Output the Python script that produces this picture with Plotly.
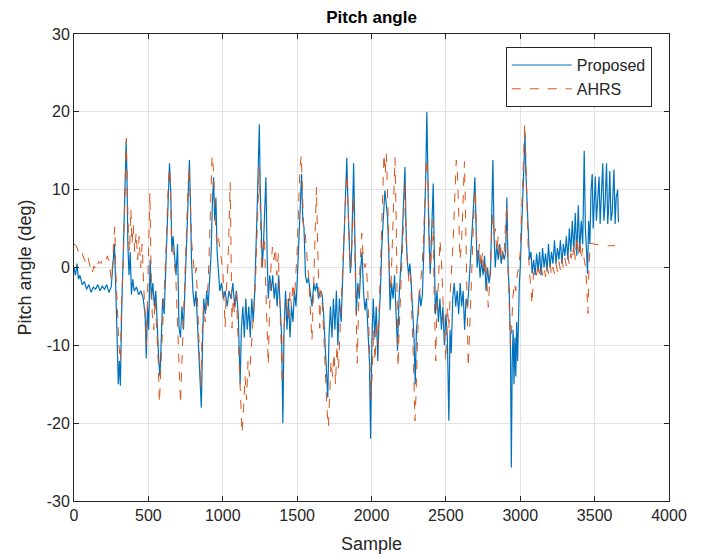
import plotly.graph_objects as go

# ---- Proposed (blue) : sample index / pitch angle (deg)
prop_s = [0,10,20,30,40,55,70,85,100,115,130,145,160,175,190,205,220,235,250,262,272,280,290,298,305,312,320,328,336,344,350,356,362,370,378,386,395,405,420,435,450,465,478,486,494,502,512,520,530,540,550,560,570,578,586,596,606,615,625,634,642,650,658,666,676,686,696,706,716,726,736,746,756,764,770,776,782,790,800,810,820,830,840,850,856,864,872,882,892,902,912,922,930,938,946,954,962,970,980,992,1004,1016,1030,1042,1055,1068,1080,1092,1104,1117,1125,1135,1145,1155,1165,1175,1185,1195,1205,1215,1225,1232,1240,1246,1252,1260,1266,1274,1282,1290,1298,1306,1316,1326,1336,1346,1356,1366,1376,1386,1396,1404,1412,1422,1432,1442,1452,1462,1472,1482,1492,1500,1510,1520,1530,1538,1546,1556,1566,1576,1588,1600,1612,1622,1632,1644,1656,1668,1678,1688,1698,1706,1714,1724,1734,1744,1754,1764,1774,1784,1796,1806,1816,1826,1834,1842,1850,1858,1866,1874,1880,1888,1898,1908,1918,1928,1936,1946,1956,1966,1976,1986,1994,2002,2012,2022,2032,2042,2052,2060,2070,2080,2090,2100,2108,2116,2125,2135,2145,2155,2165,2175,2185,2195,2205,2215,2225,2232,2240,2250,2258,2266,2276,2286,2294,2302,2312,2322,2332,2342,2350,2358,2365,2372,2378,2386,2395,2405,2415,2422,2430,2440,2450,2460,2470,2480,2490,2500,2510,2520,2528,2536,2546,2556,2566,2576,2586,2596,2606,2616,2626,2636,2646,2656,2666,2676,2686,2695,2702,2710,2720,2730,2740,2750,2760,2770,2780,2790,2800,2808,2816,2824,2832,2842,2852,2862,2872,2882,2892,2902,2910,2918,2926,2934,2940,2946,2952,2958,2964,2970,2976,2982,2988,2994,3000,3008,3016,3024,3032,3038,3046,3054,3062,3072,3080,3090,3100,3110,3120,3130,3140,3150,3160,3170,3180,3190,3200,3210,3220,3230,3240,3250,3260,3270,3280,3290,3300,3310,3320,3330,3340,3350,3360,3370,3380,3390,3400,3410,3420,3430,3438,3446,3452,3460,3468,3476,3484,3490,3498,3505,3512,3520,3530,3537,3545,3555,3562,3570,3580,3588,3595,3602,3610,3618,3630,3638,3645,3655,3660]
prop_v = [0,-1,0.5,-1.5,-1,-2.2,-1.8,-2.8,-2.2,-3.2,-2.5,-2.8,-2.2,-3,-2.4,-2.8,-2.2,-3.2,-2.5,0,3,-2,-8,-15,-12,-15.2,-6,-1,4,11,16.2,12,3,-1,2,-3.5,-1.5,-3,-2.5,-3.5,-3,-4,-6,-11.7,-5,-8,1,-4,-2,-5,-3,-8,-12,-14,-8,-4,-6,-1,3,8,13.4,10,2,4,1,-1,3,-7.7,-9,-5,-8,-3,1,7,11,13.8,9,1,-3.2,-5,-3,-7,-12,-15,-18,-10,-4,-6,-3,-5,-2,2,8,11.6,6,9,2,-1,-3,-2,-4,-3,-5,-3,-4,-2,-5,-3,-6,-15,-8,-5,-9,-4,-8,-5,-9,-4,-7,-3,2,8,14,18.4,10,2,0,3,7,11.6,2,-4,-1,-3,-1,-4,-2,-5,-1,-6,-9,-20,-8,-3,-8,-4,-9,-5,-7,-3,-5,-2,3,9,12,6,5.2,-1,-2,-1.3,-3,-5,-2,-3,-2,-4,-3,-3.5,-6,-10,-14,-16.7,-9,-5,-9,-4,-8,-3,-10,-4,-7,-2,3,9,14.1,8,3,-0.7,2,8,13.4,4,-6,-2,-4,0,2,-3,-5.5,-4,-8,-12,-22,-10,-4,-9,-5,-12,-6,-3,3,7,9.9,8,6.4,2,-5.5,-2,-4,-1,-6,-10.7,-4,-1,3,8,12.9,5,0.9,-1,0.5,-1.7,-5,-9,-15,-8,-6,-3,-5,-3.5,1,6,12,20,10,4,-0.8,4,10.8,2,-6,-3,-7,-4,-8,-5,-10,-6,-9,-19.7,-8,-11,-4,-2,-5,-3,-6,-2,-5,-3,-8,-4,-5,-2,1,4,8,11.6,5,0,2.2,-1.3,1,-1,1.5,-3,0,-2,-0.8,6,13.8,4,0,3,1,3,0.5,2,1,2,9,0,-3,-10,-25.7,-12,-8,-15,-9,-14,-7,-12,-5,-2,0,4,10,14,17.2,12,8,3,1,2,-0.8,1,-1,1.8,-0.5,2,-1,2.5,0,1.8,-0.5,3,0,2,0.5,3.5,0.5,2.5,1,3.5,0.5,3,1.5,4,1,5,2,6,2,7,1.5,8,2,6,3,15,5,2,-0.8,6,3,10,12,5,8,11.7,6,8,11.7,5.6,9,13.4,6,8,13.4,5.6,8,12.4,6,7,12.6,5.6,9,10,5.8]

# ---- AHRS (red, dashed)
ahrs_s = [0,15,30,45,60,75,90,105,120,135,150,165,180,195,210,225,240,250,258,266,274,282,292,302,312,320,330,338,346,352,358,366,374,382,390,398,408,418,428,438,448,458,468,478,486,494,502,510,518,526,536,546,556,566,574,582,592,602,612,622,630,640,648,656,666,676,686,696,706,716,726,736,746,756,766,774,782,792,802,812,822,832,842,852,862,872,882,892,902,912,920,928,936,944,952,962,972,982,992,1002,1010,1016,1024,1034,1042,1050,1056,1062,1070,1080,1090,1100,1110,1120,1130,1140,1150,1160,1170,1180,1190,1200,1210,1220,1230,1238,1246,1254,1262,1270,1280,1290,1300,1306,1314,1324,1334,1344,1354,1364,1374,1384,1392,1400,1410,1420,1432,1442,1452,1462,1472,1482,1492,1500,1510,1520,1528,1536,1544,1552,1560,1570,1580,1590,1600,1610,1620,1630,1638,1646,1652,1660,1670,1680,1690,1700,1710,1718,1728,1738,1748,1758,1768,1778,1788,1798,1808,1818,1828,1836,1844,1852,1862,1872,1880,1888,1898,1904,1912,1922,1935,1945,1955,1965,1975,1985,1996,2004,2014,2024,2034,2044,2054,2064,2074,2084,2092,2100,2110,2120,2130,2140,2150,2158,2166,2172,2178,2186,2196,2206,2216,2226,2234,2242,2252,2262,2272,2282,2292,2300,2310,2320,2330,2340,2350,2360,2370,2378,2386,2396,2406,2414,2422,2432,2440,2450,2460,2470,2480,2490,2500,2510,2520,2530,2540,2550,2560,2570,2578,2586,2595,2605,2615,2625,2633,2642,2650,2658,2668,2678,2688,2698,2706,2716,2726,2736,2746,2756,2766,2776,2785,2794,2804,2814,2822,2832,2842,2852,2862,2872,2882,2892,2902,2910,2918,2926,2934,2942,2950,2960,2970,2980,2990,3000,3010,3020,3030,3038,3046,3054,3064,3074,3080,3088,3100,3110,3120,3130,3140,3150,3160,3170,3180,3190,3200,3210,3220,3230,3240,3250,3260,3270,3280,3290,3300,3310,3320,3330,3340,3350,3360,3370,3380,3390,3400,3410,3420,3430,3440,3448,3455,3462,3470,3500,3530,3560,3600,3637]
ahrs_v = [3,2.8,2,2.4,1.5,0.8,1.6,0.3,-0.8,0.2,-0.4,0.8,0.5,1.2,0.8,1.5,0.2,-1.5,0,3,5.2,-1,-6,-10,-12,-4,0,6,12,16.6,10,4,2,7.5,3,5.5,2,4.5,1,4,0,3,-2,-6,-10,-4,2,9.6,0,-6,-8,-4,-8,-12,-17.4,-14,-8,-4,-1,4,9,12.7,11,3,2,0.5,-2,-7,-12,-17.5,-12,-6,0,5,10,12.8,8,3,1,-1,0,-5,-12,-15.4,-8,-5,-7,-4,-2,4,10,14.4,13,8,5,3,3.9,2,1,-1,-5,-7.7,-3,0,5,10.9,2,-7.8,-4,-6,-3,-8,-12,-16,-21.3,-18,-14,-17,-12,-14,-10,-8,-5,-2,4,10,12.9,6,-0.5,2,4,-3,-9,-12.5,-6,0,2.6,1,2.5,-1,1.8,-4,-10,-15,-8,-6,-4,-7,-3,-5,-2,-4,-1,2,8,13,14.4,10,5,5,3,0,-2,-6,-9.4,-3,4,10.3,3,-4,-7.8,-3,-5,-9,-14,-18,-20.5,-16,-12,-14,-11,-15,-10,-13,-8,-4,0,5,10,12,6,2,0,4,9,2,-8,-12.3,-6,0,4.4,1,0,0.5,-3,-9,-17,-14,-8,-12,-7,-10,-4,3,10,14.6,12,14.6,8,0,-3,3,9,14.1,6,-4,-12.8,-8,-3,2,8,11,3,0,-2,-1,-6,-12,-19.7,-16,-9,-4,-2,0,4,9,14,12,5,0,3,6,-4,-12,-5,-2,3.5,1,-4,-8,-12,-5,-8,-3,0,4,9,13.8,12,5,1,3,8,13.6,6,-4,-12.8,-9,-3,2,7,10,4,1,3,0,2,-1,1,-2,-5.1,-2,3,7,4,5,2,4,1,3,1,2,6,8,0,-6,-10,-8,-4,-2,-3,-1,0,2,8,14,18.5,14,8,2,-1,-3,-4.7,-1,0,-1,0.5,-0.8,0.3,-1,0,-1.2,0.2,-0.8,0.5,-1,0,-0.8,0.5,-0.5,0.8,-0.3,1,0,1.2,0.2,1.5,0.3,1.8,0.8,3,1,4,1.5,3.5,1,2.5,1,0,-3,-5.9,0,3.1,3,2.9,2.8,2.8,2.8]

x_ticks = [0, 500, 1000, 1500, 2000, 2500, 3000, 3500, 4000]
y_ticks = [-30, -20, -10, 0, 10, 20, 30]

FONT = "Liberation Sans, Arial, Helvetica, sans-serif"
TXT = "#262626"

fig = go.Figure()
fig.add_trace(go.Scatter(x=prop_s, y=prop_v, mode="lines", name="Proposed",
                         line=dict(color="#0072BD", width=1.2)))
fig.add_trace(go.Scatter(x=ahrs_s, y=ahrs_v, mode="lines", name="AHRS",
                         line=dict(color="#D95319", width=1, dash="dash")))

axis_common = dict(
    showgrid=True, gridcolor="#e3e3e3", gridwidth=1, automargin=False,
    zeroline=False, showline=True, linecolor="#262626", linewidth=1,
    mirror="allticks", ticks="inside", ticklen=5, tickcolor="#262626",
    tickfont=dict(family=FONT, size=16, color=TXT),
)

fig.update_layout(
    width=702, height=558,
    margin=dict(l=74, r=33, t=34, b=57),
    paper_bgcolor="white", plot_bgcolor="white",
    title=dict(text="<b>Pitch angle</b>", x=0.5, xref="paper", xanchor="center",
               y=1 - 17 / 558, yanchor="middle",
               font=dict(family=FONT, size=17, color="black")),
    xaxis=dict(range=[0, 4000], tickvals=x_ticks, ticktext=[str(t) for t in x_ticks],
               title=dict(text="Sample", font=dict(family=FONT, size=18, color=TXT), standoff=14),
               **axis_common),
    yaxis=dict(range=[-30, 30], tickvals=y_ticks, ticktext=[str(t) for t in y_ticks],
               title=dict(text="Pitch angle (deg)", font=dict(family=FONT, size=18, color=TXT), standoff=10),
               **axis_common),
    legend=dict(x=0.971, y=0.972, xanchor="right", yanchor="top",
                bgcolor="white", bordercolor="#262626", borderwidth=1,
                font=dict(family=FONT, size=16, color=TXT),
                tracegroupgap=0, itemwidth=60),
    showlegend=True,
)

fig.write_html("out.html")
